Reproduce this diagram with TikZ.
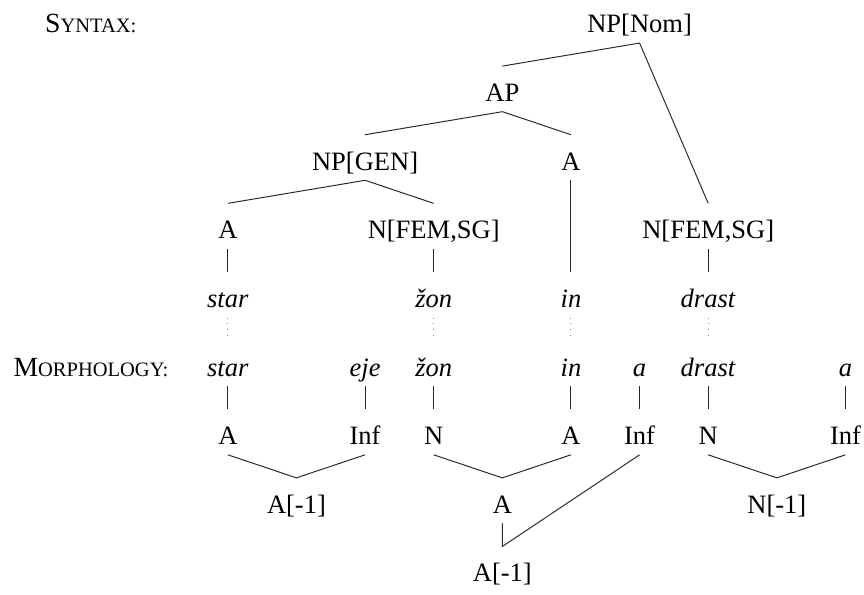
\documentclass[tikz,border=0pt]{standalone}
\usepackage{fontspec}
\setmainfont{Liberation Serif}
\newcommand{\fakesc}[2]{{\fontsize{11.5}{13}\selectfont #1}{\fontsize{8.5}{10}\selectfont #2}}

\begin{document}
\begin{tikzpicture}[scale=1]
 \tikzstyle{cat}=[anchor=base, inner sep=0pt, text height=14.5pt, text depth=4pt, font=\fontsize{11}{13}\selectfont]
 \tikzstyle{lvl}=[anchor=base west, inner sep=0pt]
 \tikzstyle{branch}=[thin, black!85]
 \tikzstyle{corresp}=[thin, dotted, black!45]
 \useasboundingbox (-3.32, 0.48) rectangle (9.27, -8.19);
 %
 \node[lvl] (syn) at (-2.67, 0) {\fakesc{S}{YNTAX:}};
 \node[lvl] (morph) at (-3.13, -5) {\fakesc{M}{ORPHOLOGY:}};
 %
 \node[cat] (NPnom) at (6, 0) {NP[Nom]};
 \node[cat] (AP) at (4, -1) {AP};
 \node[cat] (NPgen) at (2, -2) {NP[GEN]};
 \node[cat] (Ahd) at (5, -2) {A};
 \node[cat] (A1) at (0, -3) {A};
 \node[cat] (N1) at (3, -3) {N[FEM,SG]};
 \node[cat] (N2) at (7, -3) {N[FEM,SG]};
 %
 \node[cat] (star1) at (0, -4) {\textit{star}};
 \node[cat] (zon1) at (3, -4) {\textit{žon}};
 \node[cat] (in1) at (5, -4) {\textit{in}};
 \node[cat] (drast1) at (7, -4) {\textit{drast}};
 %
 \node[cat] (star2) at (0, -5) {\textit{star}};
 \node[cat] (eje) at (2, -5) {\textit{eje}};
 \node[cat] (zon2) at (3, -5) {\textit{žon}};
 \node[cat] (in2) at (5, -5) {\textit{in}};
 \node[cat] (a1) at (6, -5) {\textit{a}};
 \node[cat] (drast2) at (7, -5) {\textit{drast}};
 \node[cat] (a2) at (9, -5) {\textit{a}};
 %
 \node[cat] (A3) at (0, -6) {A};
 \node[cat] (Inf1) at (2, -6) {Inf};
 \node[cat] (N3) at (3, -6) {N};
 \node[cat] (A4) at (5, -6) {A};
 \node[cat] (Inf2) at (6, -6) {Inf};
 \node[cat] (N4) at (7, -6) {N};
 \node[cat] (Inf3) at (9, -6) {Inf};
 %
 \node[cat] (Am1) at (1, -7) {A[-1]};
 \node[cat] (A5) at (4, -7) {A};
 \node[cat] (Nm1) at (8, -7) {N[-1]};
 \node[cat] (Am2) at (4, -8) {A[-1]};
 %%
 \draw[branch] (AP.north) -- (NPnom.south) -- (N2.north);
 \draw[branch] (NPgen.north) -- (AP.south) -- (Ahd.north);
 \draw[branch] (A1.north) -- (NPgen.south) -- (N1.north);
 \draw[branch] (A1.south) -- (star1.north);
 \draw[branch] (N1.south) -- (zon1.north);
 \draw[branch] (Ahd.south) -- (in1.north);
 \draw[branch] (N2.south) -- (drast1.north);
 %
 \draw[corresp] (star1.south) -- (star2.north);
 \draw[corresp] (zon1.south) -- (zon2.north);
 \draw[corresp] (in1.south) -- (in2.north);
 \draw[corresp] (drast1.south) -- (drast2.north);
 %
 \draw[branch] (star2.south) -- (A3.north);
 \draw[branch] (eje.south) -- (Inf1.north);
 \draw[branch] (zon2.south) -- (N3.north);
 \draw[branch] (in2.south) -- (A4.north);
 \draw[branch] (a1.south) -- (Inf2.north);
 \draw[branch] (drast2.south) -- (N4.north);
 \draw[branch] (a2.south) -- (Inf3.north);
 %
 \draw[branch] (A3.south) -- (Am1.north) -- (Inf1.south);
 \draw[branch] (N3.south) -- (A5.north) -- (A4.south);
 \draw[branch] (N4.south) -- (Nm1.north) -- (Inf3.south);
 \draw[branch] (A5.south) -- (Am2.north) -- (Inf2.south);
\end{tikzpicture}
\end{document}
